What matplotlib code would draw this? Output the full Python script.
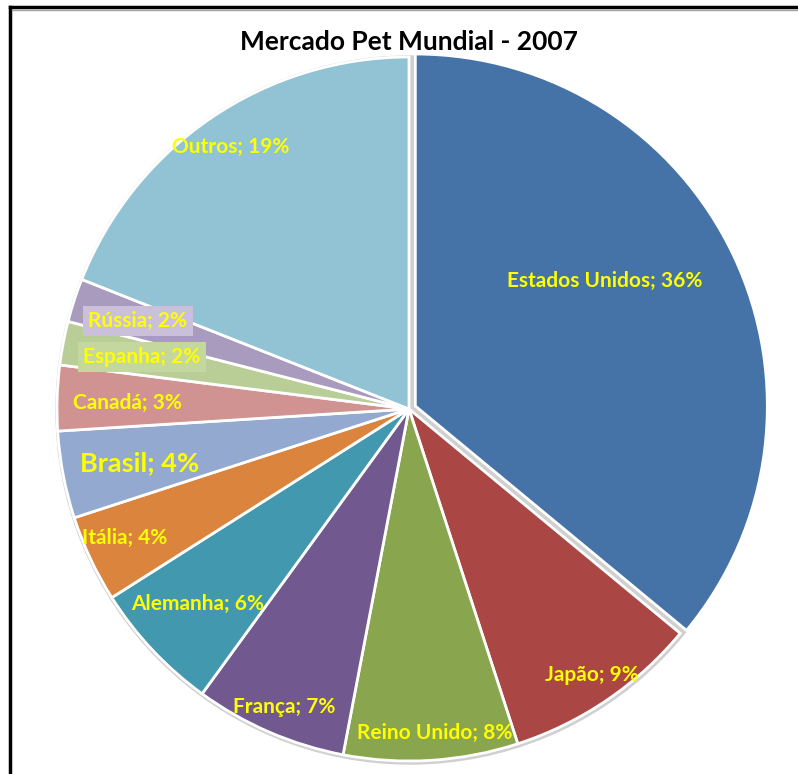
import matplotlib
matplotlib.use("Agg")
import matplotlib.pyplot as plt
from matplotlib.lines import Line2D

# ---- data ----
countries = ["Estados Unidos", "Japão", "Reino Unido", "França", "Alemanha",
             "Itália", "Brasil", "Canadá", "Espanha", "Rússia", "Outros"]
shares = [36, 9, 8, 7, 6, 4, 4, 3, 2, 2, 19]
title = "Mercado Pet Mundial - 2007"

# ---- style ----
colors = ["#4572A7", "#AA4643", "#89A54E", "#71588F", "#4198AF", "#DB843D",
          "#93A9CF", "#D19392", "#B9CD96", "#A99BBD", "#92C3D5"]
# explode offsets in pixels (matplotlib uses data units)
explode = [7, 0, 0, 0, 0, 0, 0, 0, 0, 0, 0]
# label centres in pixels (x, y measured from top)
label_pos = [(605, 281), (592, 675), (435, 733), (284, 707), (198, 604),
             (125, 538), (140, 463), (127, 403), (142, 357), (138, 321),
             (231, 147)]
label_size = [15, 15, 15, 15, 15, 15, 19.5, 15, 15, 15, 15]
label_box = [None] * 8 + ["#C4D79E", "#CBC0DA", None]

W, H = 798, 774
fig = plt.figure(figsize=(W / 100, H / 100), dpi=100)
ax = fig.add_axes([0, 0, 1, 1])

cx, cy, R = 409, H - 409, 352

# faint shadow ring
shadow = plt.Circle((cx + 1, cy - 1), R + 2, color="#D0D0D0", zorder=0)
ax.add_patch(shadow)

ax.pie(shares, colors=colors, explode=explode, startangle=90,
       counterclock=False, center=(cx, cy), radius=R, frame=True,
       wedgeprops=dict(edgecolor="white", linewidth=2))
ax.set_xlim(0, W)
ax.set_ylim(0, H)
ax.set_aspect("equal")
ax.axis("off")

for name, val, (px, py), fs, bc in zip(countries, shares, label_pos,
                                       label_size, label_box):
    kw = {}
    if bc is not None:
        kw["bbox"] = dict(boxstyle="square,pad=0.25", facecolor=bc,
                          edgecolor="none")
    ax.text(px, H - py, f"{name}; {val}%", ha="center", va="center",
            color="#FFFF00", fontsize=fs, fontweight="bold",
            family=["Lato", "DejaVu Sans"], zorder=5, **kw)

fig.text(409 / W, 1 - 42 / H, title, ha="center", va="center",
         fontsize=19, fontweight="bold", family=["Lato", "DejaVu Sans"],
         color="black")

# frame lines (top and left)
fig.add_artist(Line2D([10 / W, 1], [1 - 7 / H, 1 - 7 / H],
                      transform=fig.transFigure, color="black", linewidth=2.5))
fig.add_artist(Line2D([10 / W, 10 / W], [0, 1 - 7 / H],
                      transform=fig.transFigure, color="black", linewidth=2.5))
fig.add_artist(Line2D([12 / W, 1], [1 - 9.5 / H, 1 - 9.5 / H],
                      transform=fig.transFigure, color="#A0A0A0", linewidth=1))

fig.savefig("out.png", dpi=100)
